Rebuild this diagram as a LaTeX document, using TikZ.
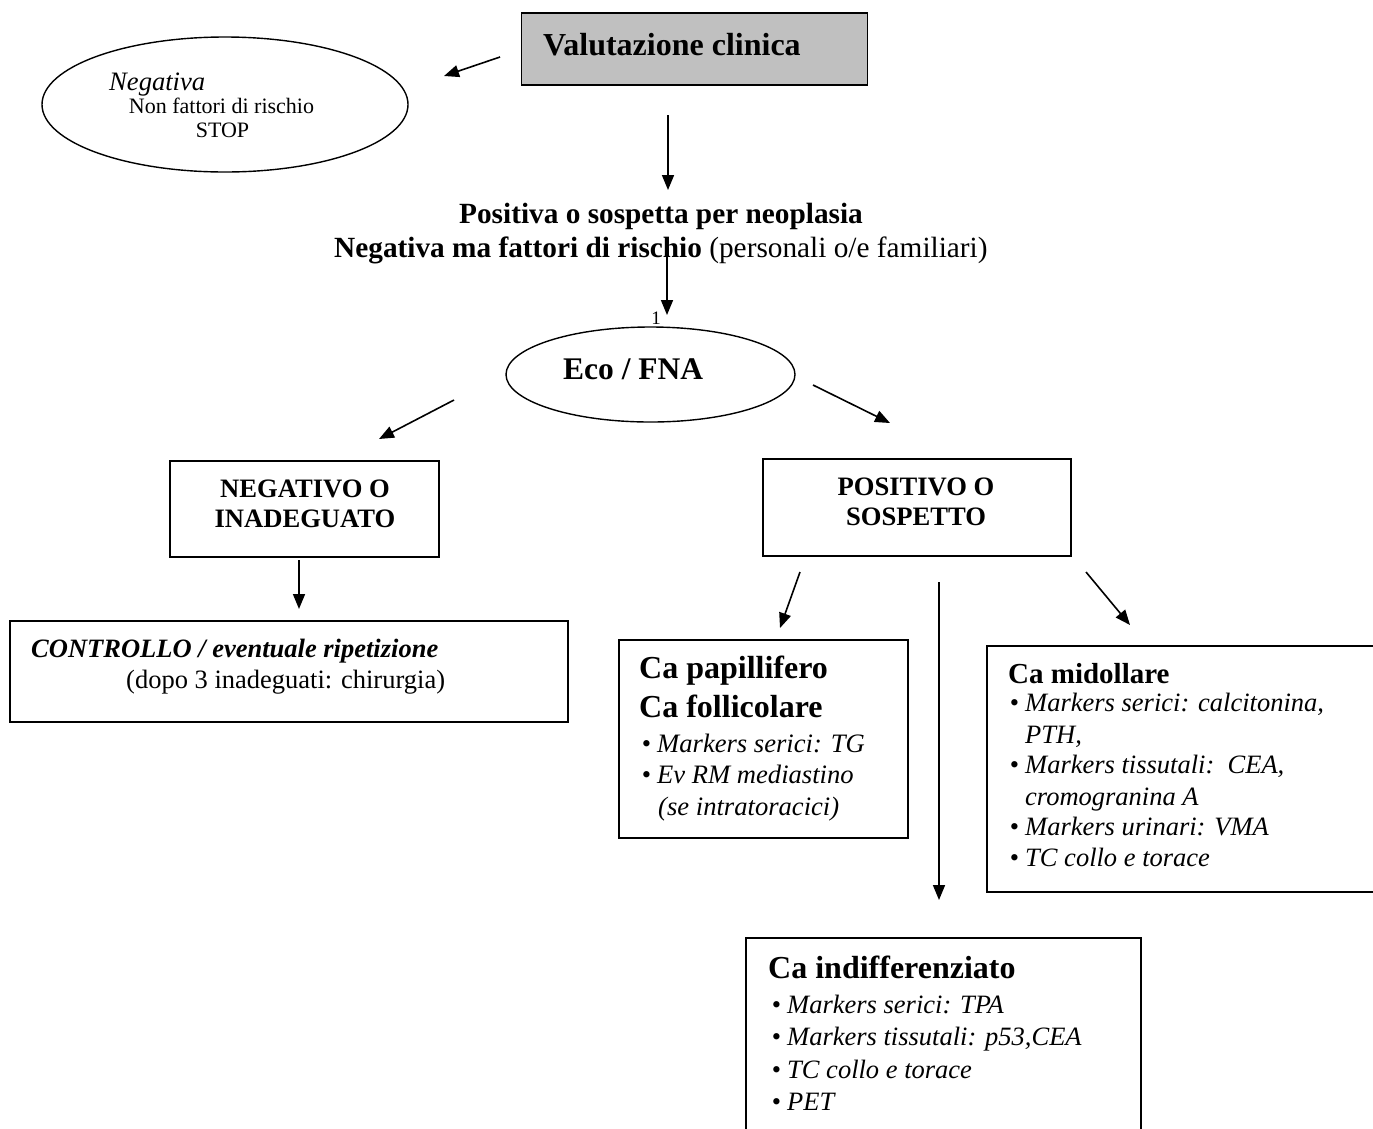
\documentclass[tikz,border=0pt]{standalone}
\usepackage{fontspec}
\setmainfont{Liberation Serif}
\usetikzlibrary{arrows.meta,shapes.geometric}
\definecolor{boxgray}{RGB}{192,192,192}
\newcommand\setfs[1]{\fontsize{#1pt}{#1pt}\selectfont}
\newcommand\itm[1]{\llap{\textbullet\hspace{6pt}}\textit{#1}}
\begin{document}
\begin{tikzpicture}[x=1pt,y=-1pt,
  box/.style={draw, line width=1.6pt, rectangle, inner sep=0pt, anchor=center},
  oval/.style={draw, line width=1.4pt, ellipse, inner sep=0pt, anchor=center},
  txt/.style={inner sep=0pt, anchor=base west},
  ctxt/.style={inner sep=0pt, anchor=base},
  arr/.style={line width=1.6pt, -{Triangle[length=15pt,width=12pt]}}]
\useasboundingbox[fill=white] (0,0) rectangle (1373,1128);

% ---- boxes and ovals
\node[box, fill=boxgray, minimum width=346pt, minimum height=72pt] (valut) at (694.5,49) {};
\node[oval, minimum width=366pt, minimum height=135pt] (neg) at (225,104.5) {};
\node[oval, minimum width=289pt, minimum height=95pt] (eco) at (650.5,374.5) {};
\node[box, minimum width=269pt, minimum height=96pt] (negbox) at (304.5,509) {};
\node[box, minimum width=308pt, minimum height=97pt] (posbox) at (917,507.5) {};
\node[box, minimum width=558pt, minimum height=101pt] (ctrl) at (289,671.5) {};
\node[box, minimum width=289pt, minimum height=198pt] (pap) at (763.5,739) {};
\node[box, minimum width=413pt, minimum height=246pt] (mid) at (1193.5,769) {};
\node[box, minimum width=395pt, minimum height=212pt] (ind) at (943.5,1044) {};

% ---- texts
\node[txt] (tval) at (543,55) {\setfs{32}\bfseries Valutazione clinica};
\node[txt] (tneg1) at (109,90) {\setfs{26.6}\itshape Negativa};
\node[ctxt] (tneg2) at (221.5,113) {\setfs{22}Non fattori di rischio};
\node[ctxt] (tneg3) at (222.5,137) {\setfs{22}STOP};
\node[ctxt] (tpos1) at (661,223) {\setfs{29.3}\bfseries Positiva o sospetta per neoplasia};
\node[txt] (tpos2) at (334,257) {\setfs{29.3}\textbf{Negativa ma fattori di rischio} (personali o/e familiari)};
\node[ctxt] (tone) at (656,324) {\setfs{19}1};
\node[txt] (teco) at (563,379) {\setfs{31.5}\bfseries Eco / FNA};
\node[ctxt] (tnb1) at (305,497) {\setfs{26.6}\bfseries NEGATIVO O};
\node[ctxt] (tnb2) at (305,527) {\setfs{26.6}\bfseries INADEGUATO};
\node[ctxt] (tpb1) at (916,495) {\setfs{26.6}\bfseries POSITIVO O};
\node[ctxt] (tpb2) at (916,525) {\setfs{26.6}\bfseries SOSPETTO};
\node[txt] (tc1) at (31,657) {\setfs{26.5}\bfseries\itshape CONTROLLO / eventuale ripetizione};
\node[txt] (tc2) at (126,688) {\setfs{26.5}(dopo 3 inadeguati: chirurgia)};

\node[txt] (tp1) at (639,678) {\setfs{32}\bfseries Ca papillifero};
\node[txt] (tp2) at (639,717) {\setfs{32}\bfseries Ca follicolare};
\node[txt] (tp3) at (657,752) {\setfs{26.6}\itm{Markers serici: TG}};
\node[txt] (tp4) at (657,783) {\setfs{26.6}\itm{Ev RM mediastino}};
\node[txt] (tp5) at (658,815) {\setfs{26.6}\textit{(se intratoracici)}};

\node[txt] (tm1) at (1008,683) {\setfs{29}\bfseries Ca midollare};
\node[txt] (tm2) at (1025,711) {\setfs{26.5}\itm{Markers serici: calcitonina,}};
\node[txt] (tm3) at (1025,743) {\setfs{26.5}\textit{PTH,}};
\node[txt] (tm4) at (1025,773) {\setfs{26.5}\itm{Markers tissutali:\ \ CEA,}};
\node[txt] (tm5) at (1025,805) {\setfs{26.5}\textit{cromogranina A}};
\node[txt] (tm6) at (1025,835) {\setfs{26.5}\itm{Markers urinari: VMA}};
\node[txt] (tm7) at (1025,866) {\setfs{26.5}\itm{TC collo e torace}};

\node[txt] (ti1) at (768,978) {\setfs{32}\bfseries Ca indifferenziato};
\node[txt] (ti2) at (787,1013) {\setfs{26.5}\itm{Markers serici: TPA}};
\node[txt] (ti3) at (787,1045) {\setfs{26.5}\itm{Markers tissutali: p53,CEA}};
\node[txt] (ti4) at (787,1078) {\setfs{26.5}\itm{TC collo e torace}};
\node[txt] (ti5) at (787,1110) {\setfs{26.5}\itm{PET}};

% ---- connector end points
\coordinate (a1s) at (500,57);   \coordinate (a1e) at (444,76);
\coordinate (a2s) at (668,115);  \coordinate (a2e) at (668,190);
\coordinate (a3s) at (667,243);  \coordinate (a3e) at (667,315);
\coordinate (a4s) at (454,400);  \coordinate (a4e) at (379,439);
\coordinate (a5s) at (813,385);  \coordinate (a5e) at (890,423);
\coordinate (a6s) at (299,560);  \coordinate (a6e) at (299,609);
\coordinate (a7s) at (800,572);  \coordinate (a7e) at (780,628);
\coordinate (a8s) at (939,582);  \coordinate (a8e) at (939,900);
\coordinate (a9s) at (1086,572); \coordinate (a9e) at (1130,625);

\draw[arr] (a1s) -- (a1e);
\draw[arr] (a2s) -- (a2e);
\draw[arr] (a3s) -- (a3e);
\draw[arr] (a4s) -- (a4e);
\draw[arr] (a5s) -- (a5e);
\draw[arr] (a6s) -- (a6e);
\draw[arr] (a7s) -- (a7e);
\draw[arr] (a8s) -- (a8e);
\draw[arr] (a9s) -- (a9e);
\end{tikzpicture}
\end{document}
